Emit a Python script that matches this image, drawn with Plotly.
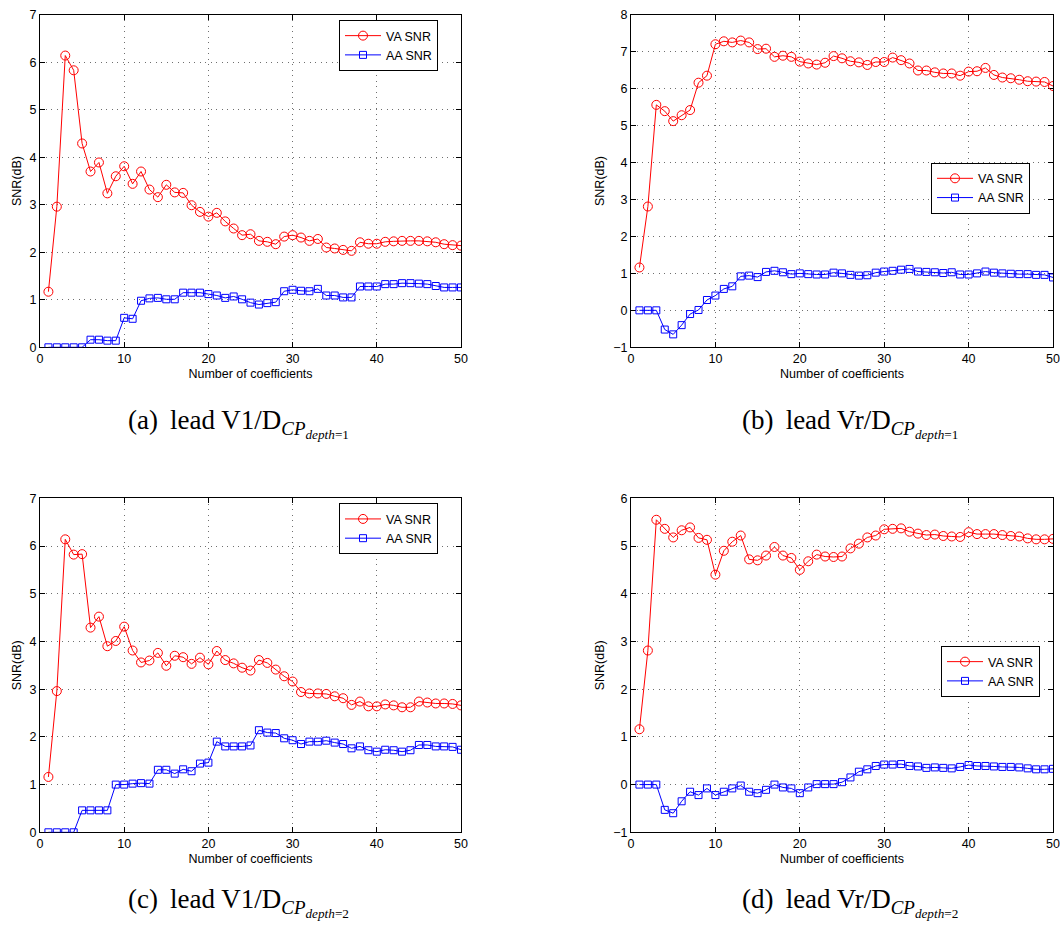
import plotly.graph_objects as go

# ---------------- data ----------------
coefficients = list(range(1, 51))

va_a = [1.17, 2.96, 6.14, 5.83, 4.29, 3.70, 3.89, 3.24, 3.60, 3.81,
        3.44, 3.70, 3.32, 3.16, 3.42, 3.26, 3.25, 2.99, 2.85, 2.75,
        2.83, 2.65, 2.50, 2.36, 2.38, 2.24, 2.22, 2.17, 2.33, 2.36,
        2.31, 2.24, 2.28, 2.10, 2.08, 2.05, 2.03, 2.21, 2.18, 2.18,
        2.22, 2.23, 2.24, 2.24, 2.24, 2.23, 2.21, 2.17, 2.15, 2.14]
aa_a = [0.0, 0.0, 0.0, 0.0, 0.0, 0.16, 0.16, 0.14, 0.14, 0.62,
        0.60, 0.98, 1.03, 1.04, 1.01, 1.01, 1.15, 1.15, 1.15, 1.12,
        1.09, 1.04, 1.07, 1.01, 0.94, 0.90, 0.93, 0.95, 1.18, 1.21,
        1.19, 1.18, 1.23, 1.09, 1.09, 1.05, 1.05, 1.28, 1.28, 1.28,
        1.33, 1.33, 1.35, 1.35, 1.34, 1.33, 1.29, 1.26, 1.26, 1.26]

va_b = [1.16, 2.81, 5.56, 5.39, 5.12, 5.28, 5.42, 6.16, 6.35, 7.20,
        7.28, 7.25, 7.30, 7.25, 7.07, 7.08, 6.86, 6.89, 6.86, 6.73,
        6.68, 6.65, 6.70, 6.88, 6.82, 6.74, 6.71, 6.64, 6.72, 6.72,
        6.84, 6.77, 6.68, 6.49, 6.49, 6.44, 6.41, 6.41, 6.35, 6.46,
        6.47, 6.56, 6.37, 6.30, 6.28, 6.24, 6.20, 6.19, 6.18, 6.07]
aa_b = [0.0, 0.0, 0.0, -0.52, -0.65, -0.40, -0.10, 0.01, 0.28, 0.40,
        0.58, 0.65, 0.92, 0.94, 0.90, 1.04, 1.07, 1.03, 0.98, 1.00,
        0.98, 0.97, 0.97, 1.02, 1.00, 0.96, 0.94, 0.95, 1.02, 1.05,
        1.07, 1.10, 1.12, 1.05, 1.04, 1.03, 1.01, 1.03, 0.97, 0.97,
        1.00, 1.05, 1.02, 1.00, 0.99, 0.98, 0.98, 0.96, 0.96, 0.89]

va_c = [1.16, 2.96, 6.14, 5.82, 5.83, 4.29, 4.52, 3.90, 4.01, 4.31,
        3.81, 3.56, 3.60, 3.76, 3.49, 3.70, 3.67, 3.53, 3.66, 3.52,
        3.80, 3.61, 3.54, 3.45, 3.39, 3.61, 3.55, 3.41, 3.27, 3.16,
        2.94, 2.91, 2.91, 2.90, 2.85, 2.81, 2.67, 2.74, 2.64, 2.64,
        2.68, 2.66, 2.62, 2.62, 2.74, 2.72, 2.70, 2.70, 2.69, 2.66]
aa_c = [0.0, 0.0, 0.0, 0.0, 0.46, 0.46, 0.46, 0.46, 1.00, 1.00,
        1.02, 1.03, 1.02, 1.31, 1.31, 1.23, 1.32, 1.28, 1.44, 1.46,
        1.90, 1.80, 1.80, 1.80, 1.82, 2.14, 2.09, 2.08, 1.97, 1.93,
        1.85, 1.90, 1.90, 1.92, 1.88, 1.85, 1.76, 1.80, 1.72, 1.69,
        1.73, 1.72, 1.69, 1.72, 1.83, 1.83, 1.80, 1.80, 1.79, 1.73]

va_d = [1.16, 2.81, 5.55, 5.36, 5.18, 5.33, 5.39, 5.17, 5.13, 4.40,
        4.90, 5.09, 5.22, 4.72, 4.70, 4.80, 4.98, 4.80, 4.75, 4.50,
        4.68, 4.82, 4.78, 4.77, 4.78, 4.95, 5.05, 5.18, 5.22, 5.35,
        5.36, 5.37, 5.30, 5.26, 5.23, 5.24, 5.21, 5.20, 5.19, 5.29,
        5.25, 5.25, 5.25, 5.23, 5.21, 5.20, 5.16, 5.14, 5.14, 5.15]
aa_d = [0.0, 0.0, 0.0, -0.53, -0.60, -0.35, -0.15, -0.22, -0.08, -0.22,
        -0.15, -0.08, -0.02, -0.15, -0.18, -0.11, 0.00, -0.06, -0.08, -0.18,
        -0.06, 0.01, 0.01, 0.01, 0.05, 0.15, 0.27, 0.32, 0.39, 0.42,
        0.42, 0.43, 0.39, 0.38, 0.35, 0.36, 0.35, 0.34, 0.37, 0.41,
        0.39, 0.39, 0.38, 0.37, 0.37, 0.36, 0.34, 0.32, 0.32, 0.33]

series_names = ["VA SNR", "AA SNR"]
x_title = "Number of coefficients"
y_title = "SNR(dB)"
captions = [
    "(a) \u2009lead V1/D<sub><i>CP</i><sub><i>depth</i>=1</sub></sub>",
    "(b) \u2009lead Vr/D<sub><i>CP</i><sub><i>depth</i>=1</sub></sub>",
    "(c) \u2009lead V1/D<sub><i>CP</i><sub><i>depth</i>=2</sub></sub>",
    "(d) \u2009lead Vr/D<sub><i>CP</i><sub><i>depth</i>=2</sub></sub>",
]
y_ranges = [(0, 7), (-1, 8), (0, 7), (-1, 6)]

# ---------------- layout geometry (pixels) ----------------
W, H = 1060, 925
def px_x(p):
    return p / W
def px_y(p):
    return 1 - p / H

x_domains = [(40, 461), (631, 1053), (40, 461), (631, 1053)]
y_domains = [(14.7, 347.3), (14.7, 347.3), (498.3, 832.3), (498.3, 832.3)]
legend_pos = [(339, 20), (931, 162.7), (339, 503.3), (941, 646)]
caption_pos = [(238, 423), (850, 423), (238, 902), (850, 902)]

sans = "Liberation Sans, Arial, Helvetica, sans-serif"
serif = "Liberation Serif, Times New Roman, serif"

fig = go.Figure()
panels = [(va_a, aa_a), (va_b, aa_b), (va_c, aa_c), (va_d, aa_d)]
layout = {}
annotations = []
for i, (va, aa) in enumerate(panels):
    n = "" if i == 0 else str(i + 1)
    lg = "legend" + n
    fig.add_trace(go.Scatter(
        x=coefficients, y=va, name=series_names[0], mode="lines+markers",
        line=dict(color="#ff0000", width=1),
        marker=dict(symbol="circle-open", size=9, color="#ff0000", line=dict(width=1)),
        xaxis="x" + n, yaxis="y" + n, legend=lg))
    fig.add_trace(go.Scatter(
        x=coefficients, y=aa, name=series_names[1], mode="lines+markers",
        line=dict(color="#0000ff", width=1),
        marker=dict(symbol="square-open", size=7, color="#0000ff", line=dict(width=1)),
        xaxis="x" + n, yaxis="y" + n, legend=lg))

    common = dict(showline=True, linecolor="black", linewidth=1, mirror="ticks",
                  ticks="inside", ticklen=5, tickcolor="black",
                  showgrid=True, gridcolor="#6f6f6f", griddash="1px,4.5px", gridwidth=1,
                  zeroline=False, automargin=False, layer="below traces",
                  tickfont=dict(family=sans, size=12.5, color="black"))
    xd = x_domains[i]
    yd = y_domains[i]
    layout["xaxis" + n] = dict(common, domain=[px_x(xd[0]), px_x(xd[1])],
                               range=[0, 50], dtick=10, tick0=0,
                               anchor="y" + n,
                               title=dict(text=x_title, standoff=3,
                                          font=dict(family=sans, size=12.5, color="black")))
    layout["yaxis" + n] = dict(common, domain=[px_y(yd[1]), px_y(yd[0])],
                               range=list(y_ranges[i]), dtick=1,
                               anchor="x" + n,
                               title=dict(text=y_title, standoff=5,
                                          font=dict(family=sans, size=12.5, color="black")))
    lp = legend_pos[i]
    layout[lg] = dict(x=px_x(lp[0]), y=px_y(lp[1]), xanchor="left", yanchor="top",
                      xref="paper", yref="paper",
                      bgcolor="white", bordercolor="black", borderwidth=1,
                      font=dict(family=sans, size=12.5, color="black"),
                      tracegroupgap=0, itemwidth=36, itemclick=False)
    cp = caption_pos[i]
    annotations.append(dict(text=captions[i], x=px_x(cp[0]), y=px_y(cp[1]),
                            xref="paper", yref="paper", showarrow=False,
                            xanchor="center", yanchor="middle",
                            font=dict(family=serif, size=27, color="black")))

fig.update_layout(**layout)
fig.update_layout(width=W, height=H, margin=dict(l=0, r=0, t=0, b=0),
                  paper_bgcolor="white", plot_bgcolor="white",
                  showlegend=True, annotations=annotations)

fig.write_html("out.html")
